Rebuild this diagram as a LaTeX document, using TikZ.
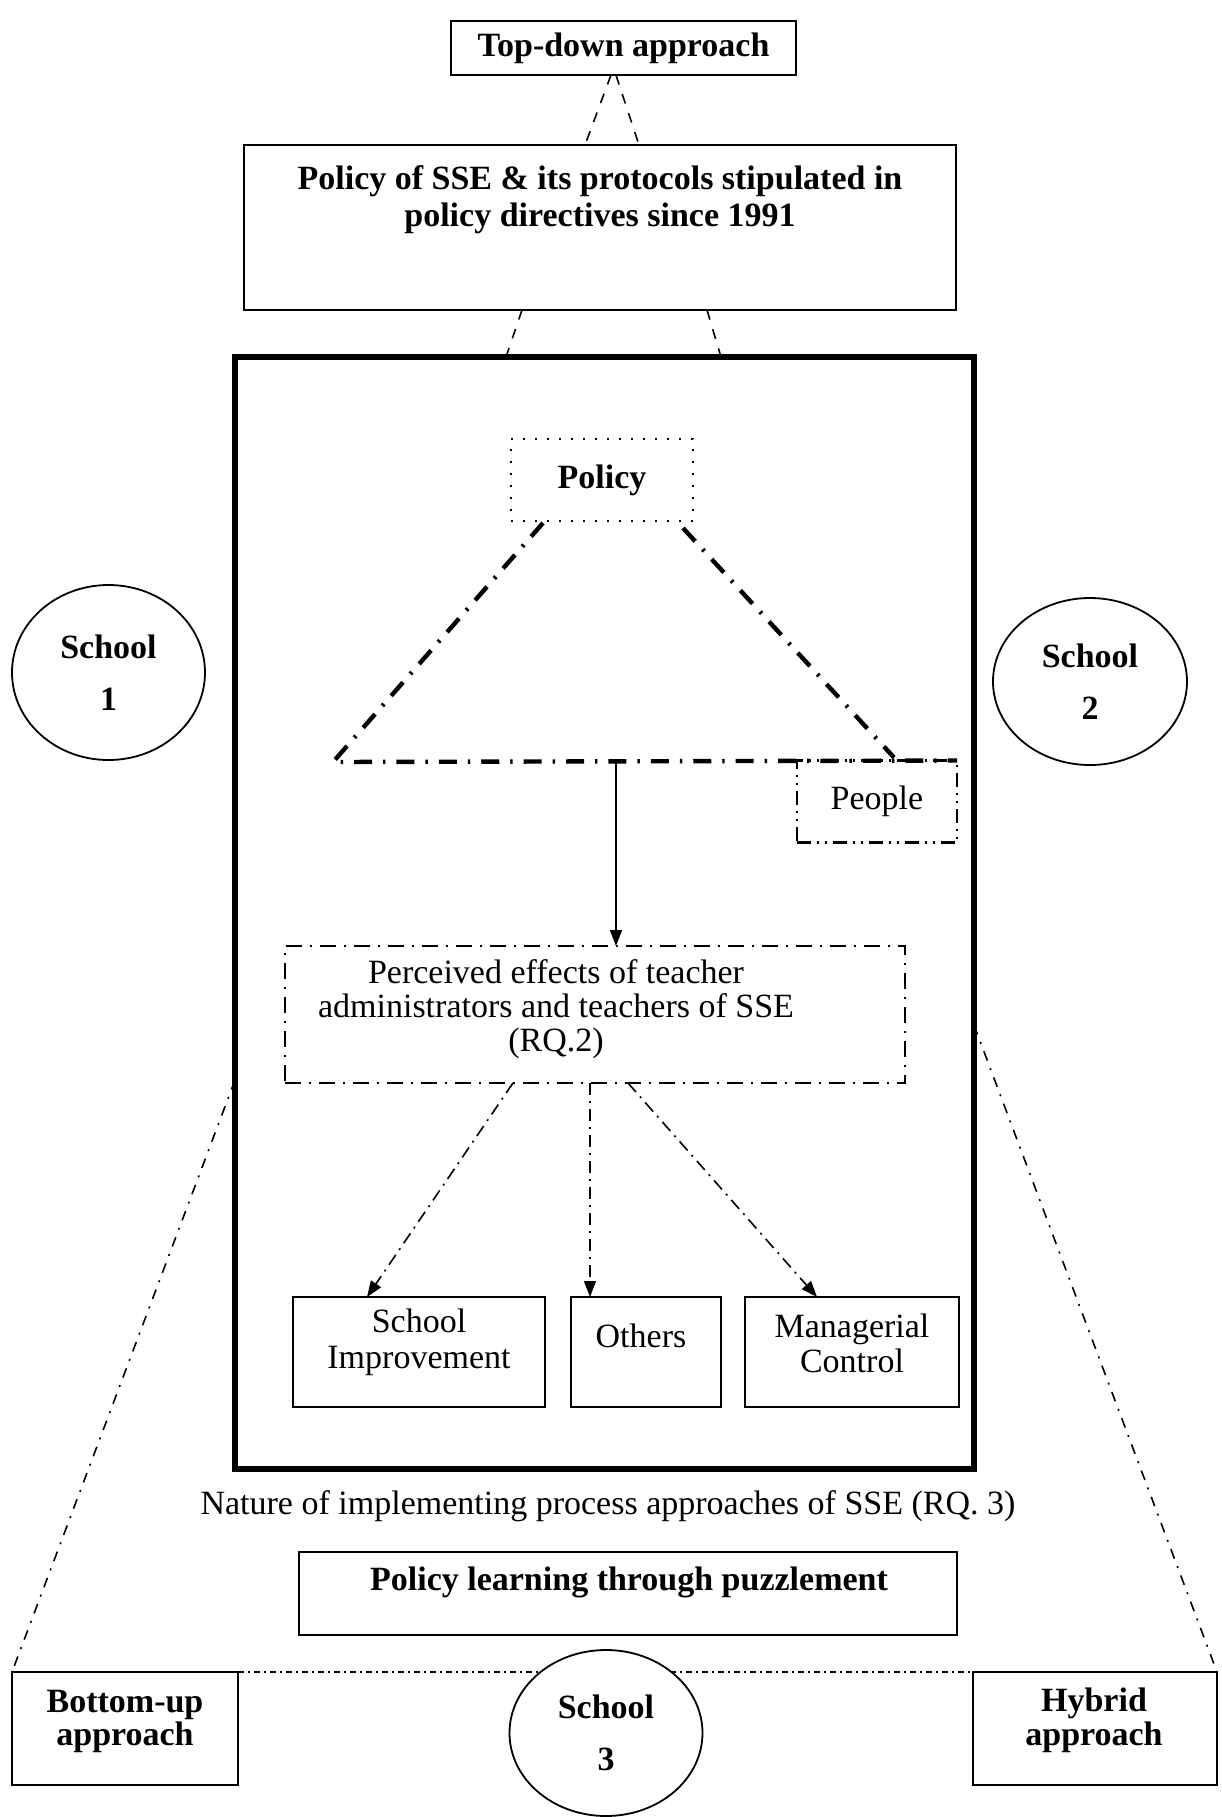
\documentclass[tikz,border=0pt]{standalone}
\usepackage{fontspec}
\setmainfont{Liberation Serif}
\usetikzlibrary{arrows.meta,calc,shapes.geometric}

\begin{document}
\begin{tikzpicture}[x=0.5pt,y=-0.5pt,
  every node/.style={inner sep=0pt, outer sep=0pt},
  box/.style={draw, line width=1.4pt, rectangle},
  bigframe/.style={draw, line width=3pt, rectangle},
  rtxt/.style={font=\fontsize{17}{17}\selectfont, align=center},
  btxt/.style={font=\fontsize{17}{18.5}\selectfont\bfseries, align=center},
  school/.style={draw, ellipse, line width=0.9pt, fill=white,
    font=\fontsize{17}{26}\selectfont\bfseries, align=center},
  dotbox/.style={draw, line width=0.9pt, dash pattern=on 1pt off 5pt},
  dashdotbox/.style={draw, line width=1.2pt, dash pattern=on 8pt off 4pt on 1pt off 4pt},
  dashdotdotbox/.style={draw, line width=1.1pt, dash pattern=on 7pt off 3pt on 1pt off 3pt on 1pt off 3pt},
  tri/.style={line width=2.2pt, dash pattern=on 9pt off 5.5pt on 1.2pt off 5.5pt},
  thindash/.style={line width=0.8pt, dash pattern=on 5pt off 5pt},
  sidedash/.style={line width=0.8pt, dash pattern=on 5pt off 4pt on 1pt off 4pt},
  flow/.style={line width=0.8pt, dash pattern=on 6pt off 3pt on 1pt off 3pt,
    -{Triangle[length=8pt,width=6pt]}},
  solidflow/.style={line width=0.8pt, -{Triangle[length=8pt,width=6pt]}},
  baseline dash/.style={line width=0.9pt, dash pattern=on 3pt off 2pt on 1pt off 2pt}
]
\useasboundingbox (0,0) rectangle (1222,1817);

% upper boxes
\node[box, btxt, minimum width=172.5pt, minimum height=27pt] (td) at (623.5,48) {Top-down approach};
\node[box, minimum width=356pt, minimum height=82.5pt] (sse) at (600,227.5) {};
\node[btxt] (ssetext) at (600,200) {Policy of SSE \& its protocols stipulated in\\policy directives since 1991};

% main frame
\node[bigframe, minimum width=369.5pt, minimum height=556pt] (big) at (604.5,913) {};

% links between the upper boxes
\draw[thindash] ($(td.south)+(-12.5,0)$) -- ($(sse.north)+(-15,0)$);
\draw[thindash] ($(td.south)+(-7.5,0)$) -- ($(sse.north)+(39,0)$);
\draw[thindash] ($(sse.south)+(-78,0)$) -- ($(big.north)+(-98.5,0)$);
\draw[thindash] ($(sse.south)+(107,0)$) -- ($(big.north)+(116.5,0)$);

% policy triangle
\node[dotbox, btxt, minimum width=91pt, minimum height=41pt] (pol) at (602,480) {Policy};
\node[dashdotdotbox, rtxt, minimum width=80pt, minimum height=41pt] (people) at (877,801.5) {People};
\coordinate (tl) at (333,762);
\coordinate (tb) at (616,762);
\draw[tri] ($(pol.south)+(-59,2)$) -- (tl) -- (people.north east);
\draw[tri] ($(pol.south east)+(-10,7)$) -- ($(people.north)+(17,-3)$);

% perceived effects
\node[dashdotbox, minimum width=310pt, minimum height=68.5pt] (perc) at (595,1014.5) {};
\node[rtxt] (perctext) at (556,1009) {Perceived effects of teacher\\administrators and teachers of SSE\\(RQ.2)};
\draw[solidflow] (tb) -- (tb |- perc.north);

% outcomes
\node[box, minimum width=126pt, minimum height=55pt] (si) at (419,1352) {};
\node[rtxt, font=\fontsize{17}{18}\selectfont] (sitext) at (419,1342) {School\\Improvement};
\node[box, minimum width=75pt, minimum height=55pt] (oth) at (646,1352) {};
\node[rtxt] (othtext) at (641,1336) {Others};
\node[box, minimum width=107pt, minimum height=55pt] (mc) at (852,1352) {};
\node[rtxt, font=\fontsize{17}{17.5}\selectfont] (mctext) at (852,1343) {Managerial\\Control};
\draw[flow] ($(perc.south)+(-82,0)$) -- ($(si.north)+(-52,0)$);
\draw[flow] ($(perc.south)+(-5,0)$) -- ($(oth.north)+(-56,0)$);
\draw[flow] ($(perc.south)+(33,0)$) -- ($(mc.north)+(-35,0)$);

% schools 1 and 2
\node[school, minimum width=96.5pt, minimum height=87.5pt] (s1) at (108.5,672.5) {School\\1};
\node[school, minimum width=97pt, minimum height=83.5pt] (s2) at (1090,681.5) {School\\2};

% lower part
\node[rtxt] (nature) at (608,1506) {Nature of implementing process approaches of SSE (RQ. 3)};
\node[box, minimum width=329pt, minimum height=41.5pt] (plp) at (628,1593.5) {};
\node[btxt] (plptext) at (629,1582) {Policy learning through puzzlement};

\node[box, minimum width=113pt, minimum height=56.5pt] (bu) at (125,1728.5) {};
\node[btxt, font=\fontsize{17}{16.5}\selectfont\bfseries] (butext) at (125,1721) {Bottom-up\\approach};
\node[box, minimum width=122pt, minimum height=56.5pt] (hy) at (1095,1728.5) {};
\node[btxt, font=\fontsize{17}{17}\selectfont\bfseries] (hytext) at (1094,1720) {Hybrid\\approach};

\draw[sidedash] ($(big.west)+(0,167)$) -- (bu.north west);
\draw[sidedash] ($(big.east)+(0,112)$) -- (hy.north east);
\draw[baseline dash] (bu.north east) -- (hy.north west);

\node[school, minimum width=96.5pt, minimum height=83pt] (s3) at (606,1733) {School\\3};
\end{tikzpicture}
\end{document}
